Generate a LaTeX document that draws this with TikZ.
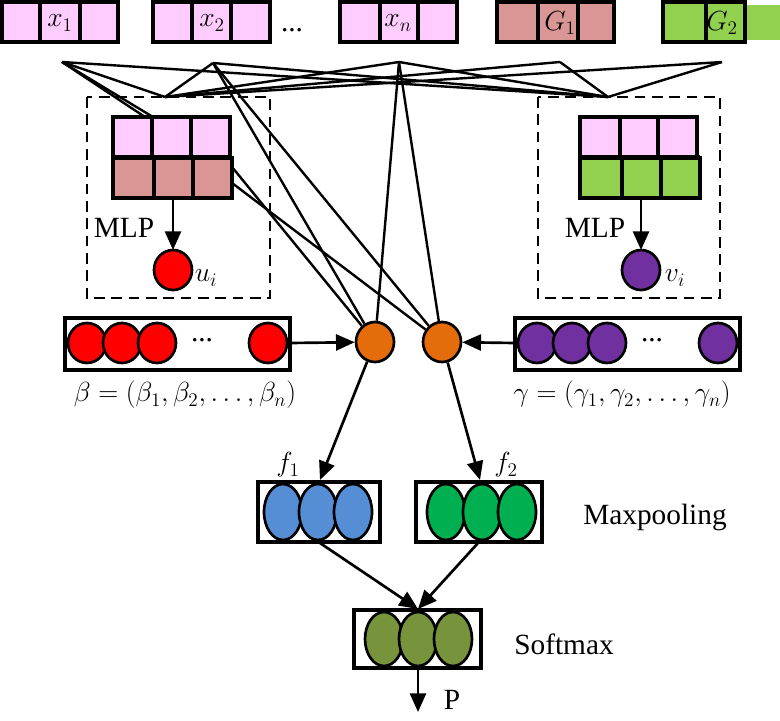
\documentclass[tikz,border=0pt]{standalone}
\usepackage{fontspec}
\setmainfont{Liberation Serif}
\usetikzlibrary{arrows.meta,shapes.geometric}
\definecolor{pinkc}{HTML}{FFCCFF}
\definecolor{brownc}{HTML}{D99694}
\definecolor{greenc}{HTML}{92D050}
\definecolor{orangec}{HTML}{E46C0A}
\definecolor{purplec}{HTML}{7030A0}
\definecolor{bluec}{HTML}{558ED5}
\definecolor{greenb}{HTML}{00B050}
\definecolor{olivec}{HTML}{77933C}
\begin{document}
\begin{tikzpicture}[x=0.75pt,y=-0.75pt,line width=2pt,
  bub/.style={draw,ellipse,line width=2pt,minimum width=38*0.75pt,minimum height=40*0.75pt,inner sep=0pt},
  ln/.style={line width=1.8pt},
  arr/.style={line width=2pt,-{Triangle[length=14pt,width=12pt]}},
  lbl/.style={font=\fontsize{22}{26}\selectfont,inner sep=0pt},
  every node/.style={font=\fontsize{22}{26}\selectfont}]
\useasboundingbox (0,0) rectangle (780,720);
\newcommand{\cellrow}[6]{%
  \filldraw[fill=#6,line width=2.4pt] (#1,#5) rectangle (#4,#5+40);
  \draw[line width=2.4pt] (#2,#5) -- (#2,#5+40) (#3,#5) -- (#3,#5+40);}
\fill[greenc] (745,5) rectangle (780,40);
\cellrow{2}{40}{80}{118}{2}{pinkc}
\cellrow{153}{192}{231}{270}{2}{pinkc}
\cellrow{340}{380}{418}{457}{2}{pinkc}
\cellrow{497}{538}{578}{614}{2}{brownc}
\cellrow{663}{706}{745}{745}{2}{greenc}
\node[lbl] (x1) at (60,23) {$x_1$};
\node[lbl] (x2) at (212,23) {$x_2$};
\node[lbl] (xn) at (398,23) {$x_n$};
\node[lbl] (g1) at (560,23) {$G_1$};
\node[lbl] (g2) at (722,23) {$G_2$};
\node[lbl] at (292,30) {...};
\coordinate (b1) at (62,62);
\coordinate (b2) at (213,63);
\coordinate (bn) at (399,62);
\coordinate (bg1) at (560,62);
\coordinate (bg2) at (722,62);
\draw[line width=2pt,dash pattern=on 8pt off 5pt] (87,97) rectangle (270,298);
\draw[line width=2pt,dash pattern=on 8pt off 5pt] (538,97) rectangle (720,298);
\coordinate (lt) at (165,97);
\coordinate (rt) at (608,97);
\cellrow{113}{152}{191}{230}{117}{pinkc}
\draw[line width=2.4pt] (113,157) -- (232,157);
\cellrow{113}{154}{193}{232}{158}{brownc}
\cellrow{580}{620}{658}{697}{117}{pinkc}
\draw[line width=2.4pt] (580,157) -- (700,157);
\cellrow{580}{622}{661}{700}{158}{greenc}
\foreach \s in {b1,b2,bn,bg1,bg2}{\draw[ln] (\s) -- (lt); \draw[ln] (\s) -- (rt);}
\draw[ln] (b1) -- (145,117);
\draw[ln] (b1) -- (153,117);
\node[bub,fill=orangec] (o1) at (375,342) {};
\node[bub,fill=orangec] (o2) at (442,342) {};
\draw[ln] (232,167) -- (o1);
\draw[ln] (232,183) -- (o2);
\draw[ln] (b2) -- (o1); \draw[ln] (b2) -- (o2);
\draw[ln] (bn) -- (o1); \draw[ln] (bn) -- (o2);
\draw[arr] (173,198) -- (173,250);
\draw[arr] (641,198) -- (641,250);
\node[lbl] at (124,228) {MLP};
\node[lbl] at (595,228) {MLP};
\node[bub,fill=red] (u) at (173,270) {};
\node[bub,fill=purplec] (v) at (641,270) {};
\node[lbl] at (206,278) {$u_i$};
\node[lbl] at (675,278) {$v_i$};
\draw[line width=2.4pt] (65,318) rectangle (290,370);
\foreach \x in {87,122,157,268}{\node[bub,fill=red] at (\x,343) {};}
\node[lbl] at (202,340) {...};
\draw[line width=2.4pt] (515,318) rectangle (740,370);
\foreach \x in {537,572,607,718}{\node[bub,fill=purplec] at (\x,343) {};}
\node[lbl] at (652,340) {...};
\coordinate (lb) at (290,343);
\coordinate (rb) at (515,343);
\draw[arr] (lb) -- (o1);
\draw[arr] (rb) -- (o2);
\node[lbl] at (185,395) {$\beta=\left(\beta_1,\beta_2,\ldots,\beta_n\right)$};
\node[lbl] at (622,395) {$\gamma=\left(\gamma_1,\gamma_2,\ldots,\gamma_n\right)$};
\draw[line width=2.4pt] (258,482) rectangle (380,542);
\foreach \x in {283,318,353}{\node[bub,fill=bluec,minimum height=56*0.75pt] at (\x,512) {};}
\draw[line width=2.4pt] (416,482) rectangle (542,542);
\foreach \x in {446,482,517}{\node[bub,fill=greenb,minimum height=56*0.75pt] at (\x,512) {};}
\coordinate (f1t) at (320,480);
\coordinate (f2t) at (480,480);
\draw[arr] (o1) -- (f1t);
\draw[arr] (o2) -- (f2t);
\node[lbl] at (288,465) {$f_1$};
\node[lbl] at (506,465) {$f_2$};
\node[lbl] at (655,517) {Maxpooling};
\draw[line width=2.4pt] (354,610) rectangle (481,668);
\foreach \x in {384,418,453}{\node[bub,fill=olivec,minimum height=54*0.75pt] at (\x,639) {};}
\coordinate (st) at (418,609);
\draw[arr] (320,543) -- (st);
\draw[arr] (478,543) -- (st);
\node[lbl] at (564,644) {Softmax};
\coordinate (pe) at (418,712);
\draw[arr] (418,668) -- (pe);
\node[lbl] at (452,700) {P};
\end{tikzpicture}
\end{document}
